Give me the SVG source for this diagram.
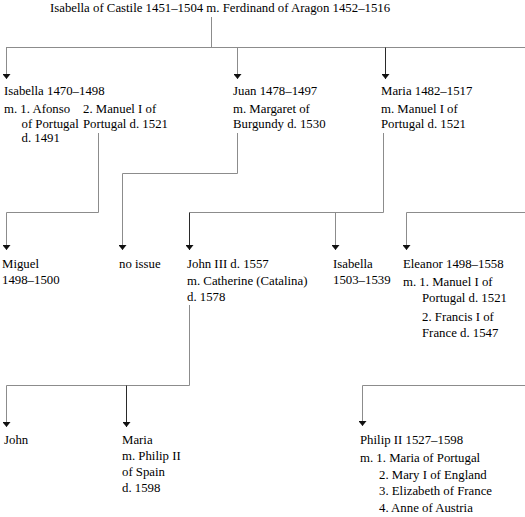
<svg xmlns="http://www.w3.org/2000/svg" width="525" height="517" viewBox="0 0 525 517">
<style>
.t { font-family: "Liberation Serif", "Times New Roman", serif; font-size: 12.8px; fill: #000; }
.c { fill: none; stroke: #8c8c8c; stroke-width: 1; }
.d { stroke: #2a2a2a; }
</style>
<defs>
<marker id="ah" viewBox="0 -4 5 8" refX="5" refY="0" markerWidth="5" markerHeight="8" markerUnits="userSpaceOnUse" orient="auto">
<path d="M0,-4 L5,0 L0,4 z" fill="#111"/>
</marker>
</defs>
<rect width="525" height="517" fill="#fff"/>
<g id="connectors">
<path class="c" d="M211.5,17 V47.5"/>
<path class="c" d="M6,47.5 H525"/>
<path class="c" d="M6.5,47.5 V79" marker-end="url(#ah)"/>
<path class="c" d="M237.5,47.5 V79" marker-end="url(#ah)"/>
<path class="c d" d="M385.5,47.5 V79" marker-end="url(#ah)"/>
<path class="c" d="M98.5,133 V212.5 H6.5 V250" marker-end="url(#ah)"/>
<path class="c" d="M237.5,133 V173.5 H122.5 V250" marker-end="url(#ah)"/>
<path class="c" d="M383.5,133 V212.5 H189.5"/>
<path class="c d" d="M189.5,212.5 V250" marker-end="url(#ah)"/>
<path class="c" d="M335.5,212.5 V250" marker-end="url(#ah)"/>
<path class="c" d="M525,212.5 H406.5 V250" marker-end="url(#ah)"/>
<path class="c" d="M189.5,305 V385.5 H6.5 V427" marker-end="url(#ah)"/>
<path class="c d" d="M126.5,385.5 V427" marker-end="url(#ah)"/>
<path class="c" d="M525,385.5 H362.5 V426" marker-end="url(#ah)"/>
</g>
<g id="isabella-castile"><text class="t" x="50" y="12">Isabella of Castile 1451–1504 m. Ferdinand of Aragon 1452–1516</text></g>
<g id="isabella-1470">
<text class="t" x="4" y="95">Isabella 1470–1498</text>
<text class="t" x="4" y="113">m. 1. Afonso</text>
<text class="t" x="21.5" y="128">of Portugal</text>
<text class="t" x="21.5" y="142">d. 1491</text>
<text class="t" x="83" y="113">2. Manuel I of</text>
<text class="t" x="83" y="128">Portugal d. 1521</text>
</g>
<g id="juan">
<text class="t" x="233" y="95">Juan 1478–1497</text>
<text class="t" x="233" y="113">m. Margaret of</text>
<text class="t" x="233" y="128">Burgundy d. 1530</text>
</g>
<g id="maria-1482">
<text class="t" x="381" y="95">Maria 1482–1517</text>
<text class="t" x="381" y="113">m. Manuel I of</text>
<text class="t" x="381" y="128">Portugal d. 1521</text>
</g>
<g id="miguel">
<text class="t" x="2" y="268">Miguel</text>
<text class="t" x="2" y="284">1498–1500</text>
</g>
<g id="no-issue"><text class="t" x="119" y="268">no issue</text></g>
<g id="john-iii">
<text class="t" x="187" y="268">John III d. 1557</text>
<text class="t" x="187" y="285">m. Catherine (Catalina)</text>
<text class="t" x="187" y="301">d. 1578</text>
</g>
<g id="isabella-1503">
<text class="t" x="333" y="268">Isabella</text>
<text class="t" x="333" y="284">1503–1539</text>
</g>
<g id="eleanor">
<text class="t" x="403" y="268">Eleanor 1498–1558</text>
<text class="t" x="403" y="286">m. 1. Manuel I of</text>
<text class="t" x="422" y="302">Portugal d. 1521</text>
<text class="t" x="422" y="321">2. Francis I of</text>
<text class="t" x="422" y="337">France d. 1547</text>
</g>
<g id="john"><text class="t" x="4" y="444">John</text></g>
<g id="maria-philip">
<text class="t" x="122" y="444">Maria</text>
<text class="t" x="122" y="460">m. Philip II</text>
<text class="t" x="122" y="476">of Spain</text>
<text class="t" x="122" y="492">d. 1598</text>
</g>
<g id="philip-ii">
<text class="t" x="360" y="444">Philip II 1527–1598</text>
<text class="t" x="360" y="462">m. 1. Maria of Portugal</text>
<text class="t" x="379" y="479">2. Mary I of England</text>
<text class="t" x="379" y="495">3. Elizabeth of France</text>
<text class="t" x="379" y="512">4. Anne of Austria</text>
</g>
</svg>
